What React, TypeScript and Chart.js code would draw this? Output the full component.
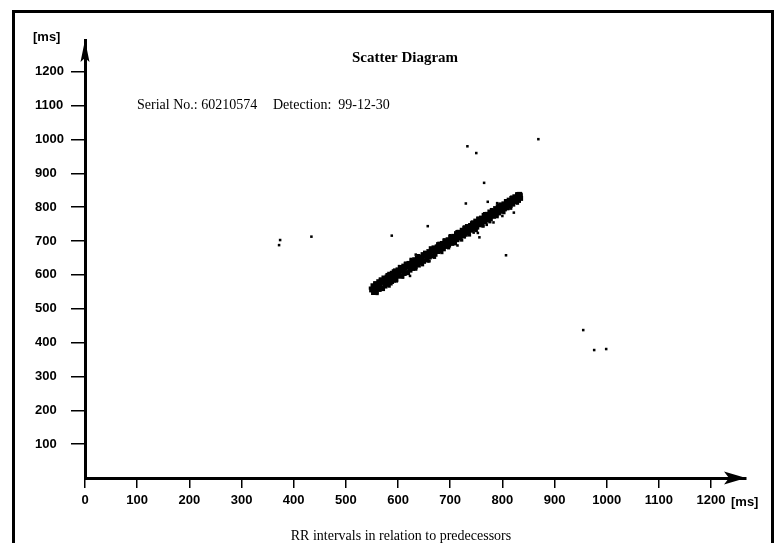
import React, { useEffect, useRef } from "react";
import { Chart, registerables } from "chart.js";

Chart.register(...registerables);

// ---- Data ----
const xTickValues = [0, 100, 200, 300, 400, 500, 600, 700, 800, 900, 1000, 1100, 1200];
const yTickValues = [100, 200, 300, 400, 500, 600, 700, 800, 900, 1000, 1100, 1200];
const X_MAX = 1267;
const Y_MAX = 1294;

const titleText = "Scatter Diagram";
const serialText = "Serial No.: 60210574";
const detectionText = "Detection:  99-12-30";
const xAxisTitle = "RR intervals in relation to predecessors";
const unitLabel = "[ms]";

// RR(n-1), RR(n) pairs
const bandCenter: [number, number][] = [
  [550, 557], [554, 562], [558, 565], [562, 571], [566, 573], [570, 578], [574, 580], [578, 586],
  [582, 588], [586, 593], [590, 597], [594, 600], [598, 605], [602, 607], [606, 613], [610, 615],
  [614, 620], [618, 624], [622, 626], [626, 632], [630, 634], [634, 640], [638, 642], [642, 647],
  [646, 650], [650, 655], [654, 657], [658, 663], [662, 665], [666, 670], [670, 674], [674, 677],
  [678, 682], [682, 684], [686, 690], [690, 693], [694, 696], [698, 701], [702, 704], [706, 708],
  [710, 712], [714, 715], [718, 720], [722, 722], [726, 728], [730, 731], [734, 734], [738, 739],
  [742, 742], [746, 747], [750, 750], [754, 753], [758, 759], [762, 761], [766, 766], [770, 769],
  [774, 772], [778, 778], [782, 780], [786, 786], [790, 788], [794, 792], [798, 797], [802, 800],
  [806, 805], [810, 807], [814, 812], [818, 815], [822, 821], [826, 823], [830, 828], [834, 831],
];
const bandUpper: [number, number][] = [
  [552, 568], [557, 574], [563, 580], [568, 584], [573, 591], [579, 594], [584, 602], [589, 605],
  [595, 612], [600, 615], [605, 622], [611, 626], [616, 632], [621, 634], [627, 641], [632, 645],
  [637, 650], [643, 653], [648, 660], [653, 663], [659, 669], [664, 673], [669, 680], [675, 683],
  [680, 691], [685, 693], [691, 701], [696, 704], [701, 711], [707, 714], [712, 722], [717, 726],
  [723, 732], [728, 737], [733, 743], [739, 746], [744, 754], [749, 759], [755, 764], [760, 768],
  [765, 776], [771, 779], [776, 786], [781, 789], [787, 796], [792, 801], [797, 807], [803, 810],
  [808, 817], [813, 821], [818, 826], [824, 831], [829, 836], [833, 838],
];
const bandLower: [number, number][] = [
  [553, 548], [558, 551], [564, 557], [569, 560], [575, 567], [580, 572], [585, 576], [591, 584],
  [596, 587], [601, 596], [607, 598], [612, 604], [617, 607], [623, 614], [628, 619], [633, 624],
  [639, 629], [644, 636], [649, 640], [655, 644], [660, 653], [665, 656], [671, 661], [676, 669],
  [681, 672], [687, 677], [692, 684], [697, 688], [703, 693], [708, 700], [713, 704], [719, 709],
  [724, 716], [729, 720], [735, 724], [740, 732], [745, 735], [751, 741], [756, 748], [761, 750],
  [767, 757], [772, 763], [777, 766], [783, 773], [788, 779], [793, 783], [799, 788], [804, 795],
  [809, 798], [815, 805], [820, 809], [825, 816], [831, 820], [835, 826],
];
const bandEdges: [number, number][] = [
  [556, 576], [566, 588], [579, 601], [591, 612], [603, 624], [614, 634], [625, 646], [639, 657],
  [651, 667], [662, 680], [676, 692], [688, 703], [700, 716], [713, 728], [727, 742], [741, 754],
  [753, 768], [766, 781], [779, 793], [792, 806], [806, 819], [818, 830], [828, 840], [836, 838],
  [560, 545], [572, 557], [583, 567], [597, 582], [609, 593], [620, 604], [634, 617], [647, 630],
  [659, 641], [670, 652], [684, 666], [697, 680], [710, 692], [722, 703], [737, 718], [750, 731],
  [763, 744], [776, 757], [790, 772], [803, 784], [816, 797], [829, 812], [548, 553], [547, 561],
];
const nearBand: [number, number][] = [
  [634, 660], [660, 641], [623, 597], [602, 626], [714, 687], [728, 711], [756, 711], [753, 724],
  [783, 755], [800, 774], [822, 784], [790, 812], [745, 725], [770, 748], [566, 585], [590, 577],
];
const outliers: [number, number][] = [
  [374, 703], [372, 688], [434, 713], [733, 980], [750, 960], [869, 1001], [765, 872],
  [588, 716], [657, 744], [730, 811], [772, 816], [807, 658], [955, 437], [976, 378], [999, 381],
];

const toXY = (pts: [number, number][]) => pts.map(([x, y]) => ({ x, y }));

const decorPlugin = {
  id: "decor",
  afterDraw(chart: any) {
    const ctx = chart.ctx as CanvasRenderingContext2D;
    const xs = chart.scales.x;
    const ys = chart.scales.y;
    const ox = xs.getPixelForValue(0);
    const oy = ys.getPixelForValue(0);
    const tipX = xs.getPixelForValue(X_MAX);
    const tipY = ys.getPixelForValue(Y_MAX);
    ctx.save();
    // outer frame
    ctx.strokeStyle = "#000";
    ctx.lineWidth = 3;
    ctx.beginPath();
    ctx.moveTo(13.5, 543);
    ctx.lineTo(13.5, 11.5);
    ctx.lineTo(772.5, 11.5);
    ctx.lineTo(772.5, 543);
    ctx.stroke();
    // arrowheads
    ctx.fillStyle = "#000";
    ctx.beginPath();
    ctx.moveTo(tipX, oy);
    ctx.lineTo(tipX - 22, oy - 6.5);
    ctx.lineTo(tipX - 17, oy);
    ctx.lineTo(tipX - 22, oy + 6.5);
    ctx.closePath();
    ctx.fill();
    ctx.beginPath();
    ctx.moveTo(ox, tipY);
    ctx.lineTo(ox + 4.5, tipY + 22);
    ctx.lineTo(ox, tipY + 18);
    ctx.lineTo(ox - 4.5, tipY + 22);
    ctx.closePath();
    ctx.fill();
    // unit labels
    ctx.font = "bold 13px 'Liberation Sans', Arial, sans-serif";
    ctx.textBaseline = "middle";
    ctx.textAlign = "left";
    ctx.fillText(unitLabel, 33, 37);
    ctx.fillText(unitLabel, 731, 502);
    // title
    ctx.font = "bold 15px 'Liberation Serif', 'Times New Roman', serif";
    ctx.textAlign = "center";
    ctx.fillText(titleText, 405, 58);
    // serial / detection
    ctx.font = "14px 'Liberation Serif', 'Times New Roman', serif";
    ctx.textAlign = "left";
    ctx.fillText(serialText, 137, 105);
    ctx.fillText(detectionText, 273, 105);
    // x axis title
    ctx.textAlign = "center";
    ctx.fillText(xAxisTitle, 401, 536);
    ctx.restore();
  },
};

export default function App() {
  const ref = useRef<HTMLCanvasElement | null>(null);
  useEffect(() => {
    if (!ref.current) return;
    const tickFont = { family: "'Liberation Sans', Arial, sans-serif", size: 13, weight: "bold" as const };
    const chart = new Chart(ref.current, {
      type: "scatter",
      data: {
        datasets: [
          {
            data: toXY([...bandCenter, ...bandUpper, ...bandLower]),
            pointStyle: "rect",
            pointRadius: 3.5,
            backgroundColor: "#000",
            borderWidth: 0,
          },
          {
            data: toXY(bandEdges),
            pointStyle: "rect",
            pointRadius: 2.3,
            backgroundColor: "#000",
            borderWidth: 0,
          },
          {
            data: toXY([...nearBand, ...outliers]),
            pointStyle: "rect",
            pointRadius: 1.8,
            backgroundColor: "#000",
            borderWidth: 0,
          },
        ],
      },
      options: {
        animation: false,
        responsive: false,
        events: [],
        layout: { padding: { left: 35, right: 29, top: 40, bottom: 0 } },
        plugins: { legend: { display: false }, tooltip: { enabled: false }, title: { display: false } },
        scales: {
          x: {
            type: "linear",
            min: 0,
            max: X_MAX,
            afterBuildTicks: (axis: any) => {
              axis.ticks = xTickValues.map((v) => ({ value: v }));
            },
            afterFit: (s: any) => {
              s.height = 65;
            },
            grid: { display: true, drawOnChartArea: false, drawTicks: true, tickLength: 10, color: "#000", lineWidth: 1.5 },
            border: { display: true, color: "#000", width: 3 },
            ticks: {
              color: "#000",
              font: tickFont,
              padding: 5,
              maxRotation: 0,
              autoSkip: false,
              callback: (v: any) => String(v),
            },
          },
          y: {
            type: "linear",
            min: 0,
            max: Y_MAX,
            afterBuildTicks: (axis: any) => {
              axis.ticks = yTickValues.map((v) => ({ value: v }));
            },
            afterFit: (s: any) => {
              s.width = 50;
            },
            grid: { display: true, drawOnChartArea: false, drawTicks: true, tickLength: 14, color: "#000", lineWidth: 1.5 },
            border: { display: true, color: "#000", width: 3 },
            ticks: {
              color: "#000",
              font: tickFont,
              crossAlign: "far",
              autoSkip: false,
              callback: (v: any) => String(v),
            },
          },
        },
      },
      plugins: [decorPlugin],
    });
    return () => chart.destroy();
  }, []);
  return (
    <div style={{ position: "fixed", left: 0, top: 0, width: 775, height: 543, background: "#fff" }}>
      <canvas ref={ref} width={775} height={543} style={{ width: 775, height: 543, display: "block" }} />
    </div>
  );
}
